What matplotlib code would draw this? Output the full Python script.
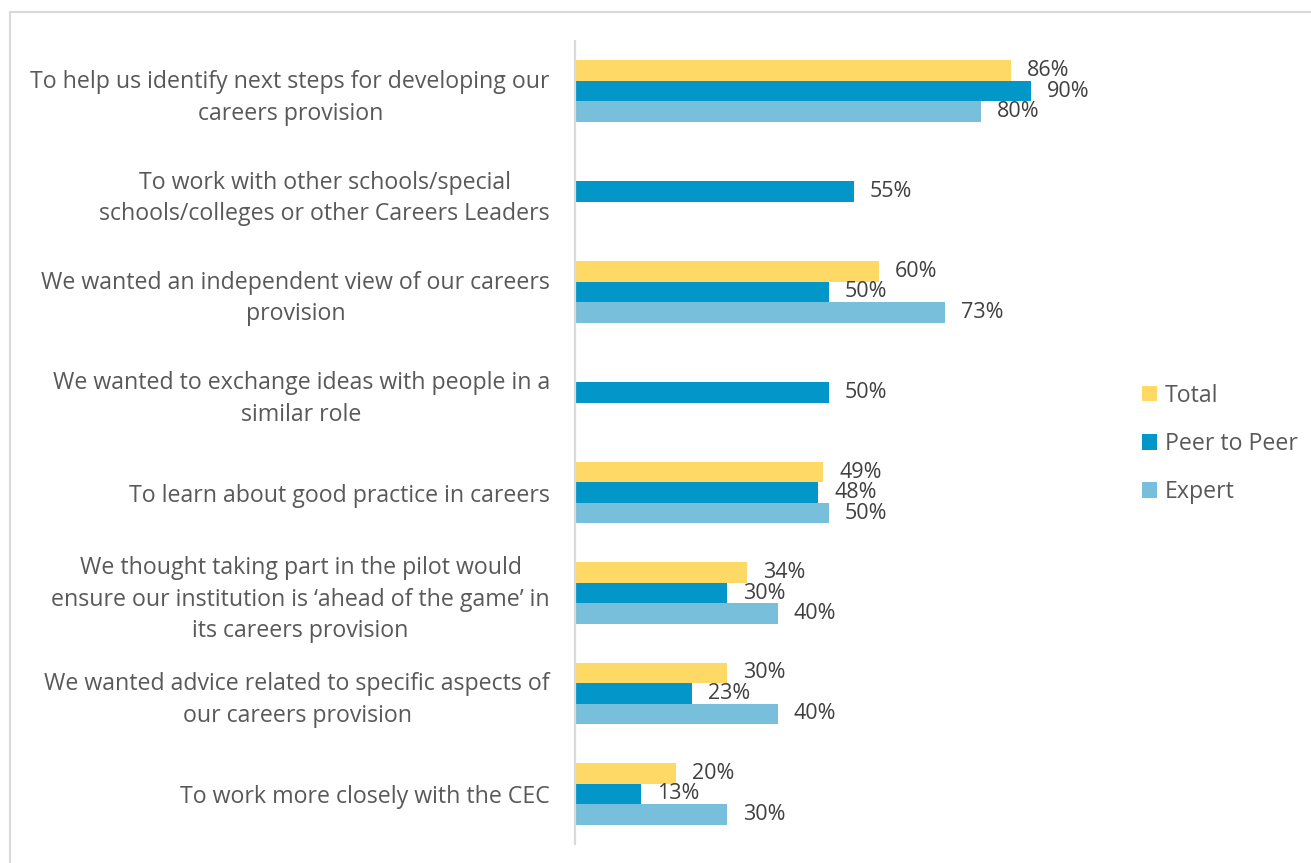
import numpy as np
import matplotlib
matplotlib.use("Agg")
import matplotlib.pyplot as plt
from matplotlib.patches import Patch
from matplotlib.lines import Line2D

plt.rcParams['font.family'] = ['Open Sans', 'DejaVu Sans']

categories = [
    "To help us identify next steps for developing our\ncareers provision",
    "To work with other schools/special\nschools/colleges or other Careers Leaders",
    "We wanted an independent view of our careers\nprovision",
    "We wanted to exchange ideas with people in a\nsimilar role",
    "To learn about good practice in careers",
    "We thought taking part in the pilot would\nensure our institution is \u2018ahead of the game\u2019 in\nits careers provision",
    "We wanted advice related to specific aspects of\nour careers provision",
    "To work more closely with the CEC",
]
total = [86, np.nan, 60, np.nan, 49, 34, 30, 20]
peer_to_peer = [90, 55, 50, 50, 48, 30, 23, 13]
expert = [80, np.nan, 73, np.nan, 50, 40, 40, 30]

series_names = ["Total", "Peer to Peer", "Expert"]
series_values = [total, peer_to_peer, expert]
series_colors = ["#FFD966", "#0396C8", "#77BFDA"]

TEXT = "#595959"
W, H = 1311, 863
fig = plt.figure(figsize=(W / 100, H / 100), dpi=100)

# axes placed in pixel terms
ax_left, ax_right = 575, 1100
ax_top, ax_bottom = 41, 844
ax = fig.add_axes([ax_left / W, 1 - ax_bottom / H,
                   (ax_right - ax_left) / W, (ax_bottom - ax_top) / H])

px_per_pct = 5.07
ax.set_xlim(0, (ax_right - ax_left) / px_per_pct)
ax.set_ylim(len(categories) - 0.5, -0.5)

y = np.arange(len(categories))
bh = 0.204
offsets = [-bh, 0, bh]
for name, vals, col, off in zip(series_names, series_values, series_colors, offsets):
    bars = ax.barh(y + off, vals, height=bh, color=col, label=name)
    labels = ["" if np.isnan(v) else f"{int(v)}%" for v in vals]
    ax.bar_label(bars, labels=labels, padding=11.5, fontsize=15.5, color="#404040")

ax.set_yticks(y)
ax.set_yticklabels(categories, fontsize=16.7, color=TEXT, linespacing=1.42)
for lab in ax.get_yticklabels():
    lab.set_multialignment("center")
ax.tick_params(axis="y", length=0, pad=18)
ax.set_xticks([])

for s in ["top", "right", "bottom"]:
    ax.spines[s].set_visible(False)
ax.spines["left"].set_color("#D9D9D9")
ax.spines["left"].set_linewidth(1.6)

handles = [Patch(facecolor=c, edgecolor="none") for c in series_colors]
fig.legend(handles, series_names, loc="center left",
           bbox_to_anchor=(1121 / W, 1 - 444 / H), frameon=False,
           fontsize=16.7, labelcolor=TEXT, handlelength=0.65, handleheight=0.65,
           handletextpad=0.35, labelspacing=1.05)

# chart area frame
frame_col = "#D9D9D9"
fig.add_artist(Line2D([10 / W, 10 / W], [1 - 12 / H, 0], transform=fig.transFigure,
                      color=frame_col, lw=1.5))
fig.add_artist(Line2D([10 / W, 1], [1 - 12 / H, 1 - 12 / H], transform=fig.transFigure,
                      color=frame_col, lw=1.5))

fig.savefig("out.png", dpi=100)
